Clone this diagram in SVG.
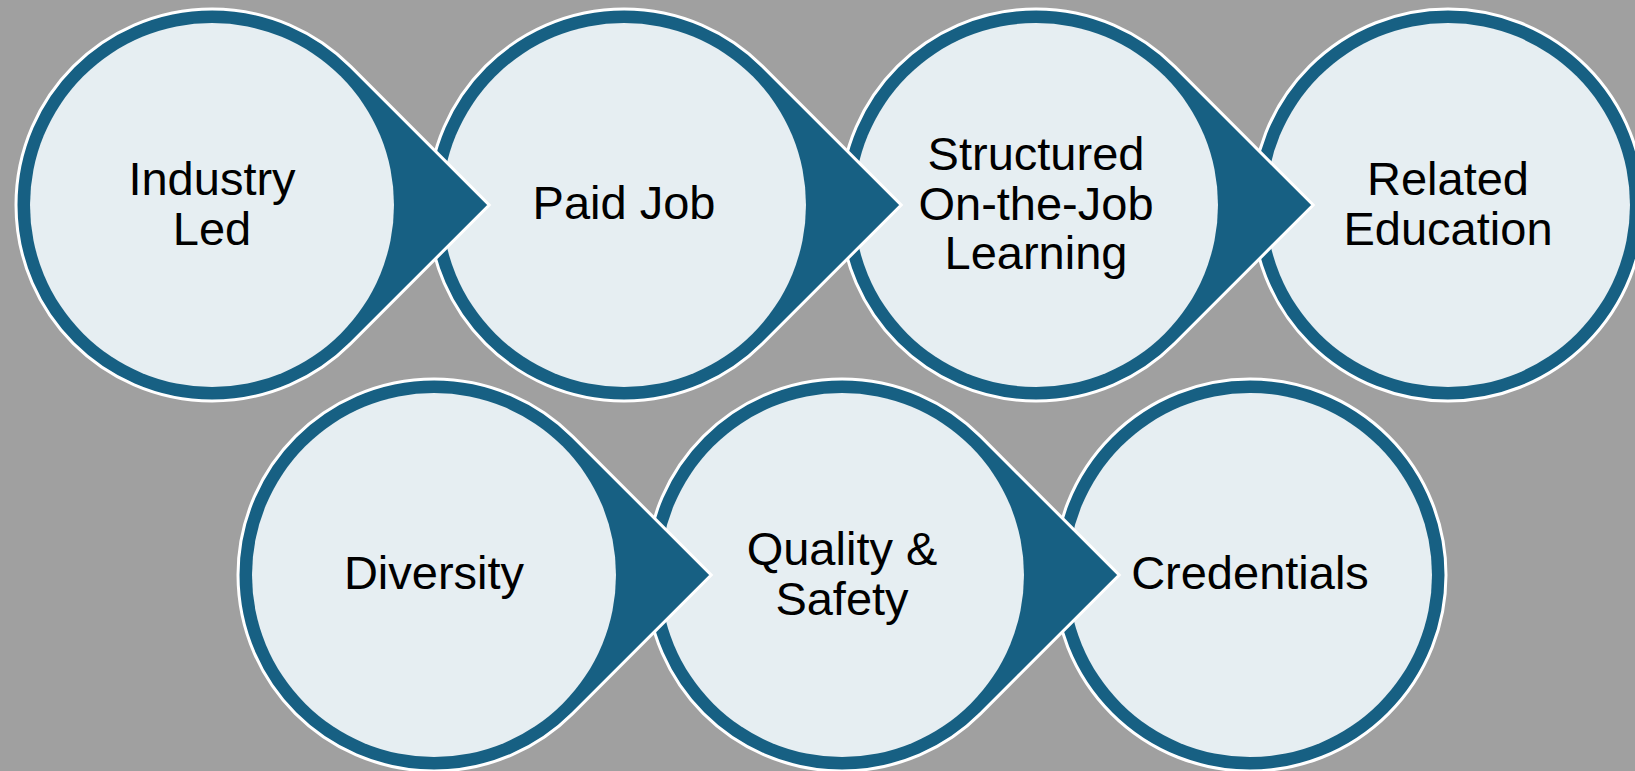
<svg xmlns="http://www.w3.org/2000/svg" xmlns:xlink="http://www.w3.org/1999/xlink" width="1635" height="771" viewBox="0 0 1635 771">
<style>
.drop{fill:#176083;stroke:#ffffff;stroke-width:3;stroke-linejoin:miter}
.inner{fill:#E6EEF2}
.lbl{font-family:"Liberation Sans",Arial,sans-serif;font-size:47px;fill:#000000;text-anchor:middle}
</style>
<defs>
<path id="dropShape" class="drop" d="M138.6,-138.6 L277.2,0 L138.6,138.6 A196,196 0 1 1 138.6,-138.6 Z"/>
<circle id="ringShape" class="drop" r="196"/>
</defs>
<rect width="1635" height="771" fill="#A0A0A0"/>
<g id="connectors"/>
<g id="node-related-education" transform="translate(1448,205)">
<use xlink:href="#ringShape" href="#ringShape"/>
<circle class="inner" r="182"/>
<text class="lbl"><tspan x="0" y="-10">Related</tspan><tspan x="0" y="40">Education</tspan></text>
</g>
<g id="node-structured" transform="translate(1036,205)">
<use xlink:href="#dropShape" href="#dropShape"/>
<circle class="inner" r="182"/>
<text class="lbl"><tspan x="0" y="-35">Structured</tspan><tspan x="0" y="15">On-the-Job</tspan><tspan x="0" y="64">Learning</tspan></text>
</g>
<g id="node-paid-job" transform="translate(624,205)">
<use xlink:href="#dropShape" href="#dropShape"/>
<circle class="inner" r="182"/>
<text class="lbl" x="0" y="14">Paid Job</text>
</g>
<g id="node-industry-led" transform="translate(212,205)">
<use xlink:href="#dropShape" href="#dropShape"/>
<circle class="inner" r="182"/>
<text class="lbl"><tspan x="0" y="-10">Industry</tspan><tspan x="0" y="40">Led</tspan></text>
</g>
<g id="node-credentials" transform="translate(1250,575)">
<use xlink:href="#ringShape" href="#ringShape"/>
<circle class="inner" r="182"/>
<text class="lbl" x="0" y="14">Credentials</text>
</g>
<g id="node-quality-safety" transform="translate(842,575)">
<use xlink:href="#dropShape" href="#dropShape"/>
<circle class="inner" r="182"/>
<text class="lbl"><tspan x="0" y="-10">Quality &amp;</tspan><tspan x="0" y="40">Safety</tspan></text>
</g>
<g id="node-diversity" transform="translate(434,575)">
<use xlink:href="#dropShape" href="#dropShape"/>
<circle class="inner" r="182"/>
<text class="lbl" x="0" y="14">Diversity</text>
</g>
</svg>
